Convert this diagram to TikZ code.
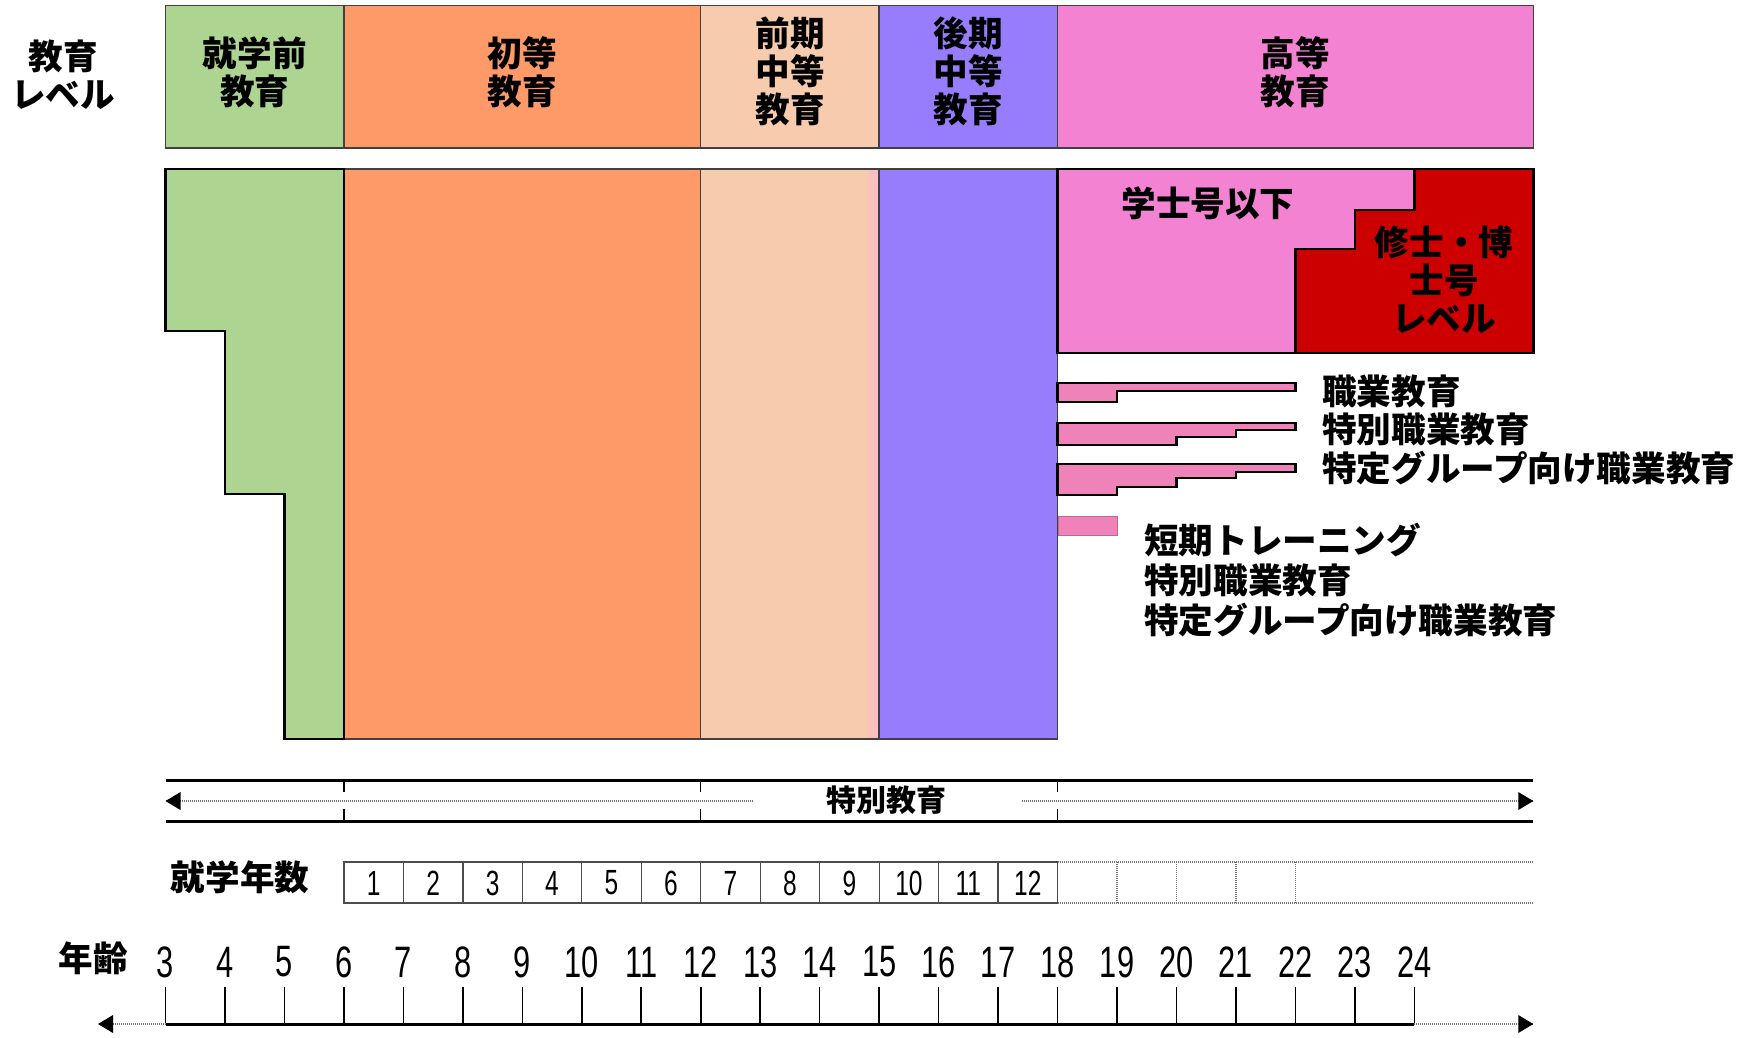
\documentclass[tikz,border=0pt]{standalone}
\usepackage{fontspec}
\newfontfamily\jp{Noto Sans CJK JP}
\newfontfamily\nar[FakeStretch=0.7]{Liberation Sans}
\usetikzlibrary{arrows.meta}
\definecolor{cgreen}{HTML}{ADD591}
\definecolor{corange}{HTML}{FE9A68}
\definecolor{cpeach}{HTML}{F7CBAE}
\definecolor{cpurple}{HTML}{977DFB}
\definecolor{cpink}{HTML}{F383D2}
\definecolor{cred}{HTML}{CC0000}
\definecolor{cvoc}{HTML}{EF82B8}
\definecolor{cline}{HTML}{404040}
\definecolor{cstrip}{HTML}{F8C0C0}
\newcommand\fJ{\jp\bfseries\fontsize{34.6}{38}\selectfont}
\newcommand\fJs{\jp\bfseries\fontsize{30}{34}\selectfont}
\newcommand\fNa{\nar\fontsize{44}{48}\selectfont}
\newcommand\fNb{\nar\fontsize{35}{40}\selectfont}
\begin{document}
\begin{tikzpicture}[x=1pt,y=-1pt,
  hdr/.style={draw=cline,line width=1.5pt},
  col/.style={draw=cline,line width=1.5pt},
  blk/.style={draw=black,line width=2.5pt,line join=miter},
  lbl/.style={font=\fJ,align=center,inner sep=0pt},
  lbls/.style={font=\fJs,align=center,inner sep=0pt},
  vbar/.style={fill=cvoc,draw=black,line width=2.4pt},
  dotl/.style={draw=black!55,line width=1.2pt,dash pattern=on 1pt off 1pt},
  agenum/.style={font=\fNa,inner sep=0pt},
  boxnum/.style={font=\fNb,inner sep=0pt},
  yrbox/.style={draw=black!70,line width=1.3pt},
]
\useasboundingbox (0,0) rectangle (1742,1037);
% ---------- header band ----------
\filldraw[hdr,fill=cgreen]  (165.5,5.5) rectangle (343.9,148);
\filldraw[hdr,fill=corange] (343.9,5.5) rectangle (700.7,148);
\filldraw[hdr,fill=cpeach]  (700.7,5.5) rectangle (879.1,148);
\filldraw[hdr,fill=cpurple] (879.1,5.5) rectangle (1057.6,148);
\filldraw[hdr,fill=cpink]   (1057.6,5.5) rectangle (1533.3,148);
\node[lbl] (lvl) at (63,75) {教育\\レベル};
\node[lbl] (h1) at (254.7,72) {就学前\\教育};
\node[lbl] (h2) at (522.3,72) {初等\\教育};
\node[lbl] (h3) at (790,71) {前期\\中等\\教育};
\node[lbl] (h4) at (968.3,71) {後期\\中等\\教育};
\node[lbl] (h5) at (1295.4,72) {高等\\教育};
% ---------- main columns ----------
\filldraw[col,fill=corange] (343.9,169) rectangle (700.7,739);
\filldraw[col,fill=cpeach]  (700.7,169) rectangle (879.1,739);
\fill[cstrip] (869,170) rectangle (878.3,738);
\filldraw[col,fill=cpurple] (879.1,169) rectangle (1057.6,739);
\filldraw[blk,fill=cgreen] (165.5,169) -- (343.9,169) -- (343.9,739) -- (284.4,739)
  -- (284.4,494) -- (225,494) -- (225,331) -- (165.5,331) -- cycle;
% ---------- higher education ----------
\filldraw[blk,fill=cpink] (1057.6,169) rectangle (1533.3,353);
\filldraw[blk,fill=cred] (1414.4,169) -- (1533.3,169) -- (1533.3,353) -- (1295.4,353)
  -- (1295.4,249) -- (1354.9,249) -- (1354.9,210) -- (1414.4,210) -- cycle;
\node[lbl] (bach) at (1208,203) {学士号以下};
\node[lbl] (mast) at (1444,280) {修士・博\\士号\\レベル};
% ---------- vocational bars ----------
\filldraw[vbar] (1057.6,383) -- (1295.4,383) -- (1295.4,391) -- (1117,391) -- (1117,402) -- (1057.6,402) -- cycle;
\filldraw[vbar] (1057.6,423) -- (1295.4,423) -- (1295.4,430) -- (1236,430) -- (1236,437)
  -- (1176.5,437) -- (1176.5,445) -- (1057.6,445) -- cycle;
\filldraw[vbar] (1057.6,464) -- (1295.4,464) -- (1295.4,472) -- (1236,472) -- (1236,478)
  -- (1176.5,478) -- (1176.5,487) -- (1117,487) -- (1117,495) -- (1057.6,495) -- cycle;
\filldraw[fill=cvoc,draw=cvoc!80!black,line width=1pt] (1058.5,516) rectangle (1117,535);
\node[lbl,anchor=west] (v1) at (1322,391) {職業教育};
\node[lbl,anchor=west] (v2) at (1322,429) {特別職業教育};
\node[lbl,anchor=west] (v3) at (1322,468) {特定グループ向け職業教育};
\node[lbl,anchor=west] (s1) at (1144,540) {短期トレーニング};
\node[lbl,anchor=west] (s2) at (1144,580) {特別職業教育};
\node[lbl,anchor=west] (s3) at (1144,620) {特定グループ向け職業教育};
% ---------- special education ----------
\draw[line width=3pt] (165.5,780) -- (1533.3,780);
\draw[line width=3pt] (165.5,821) -- (1533.3,821);
\foreach \xx in {343.9,700.7,1057.6}{
  \draw[line width=1.5pt] (\xx,780) -- (\xx,792);
  \draw[line width=1.5pt] (\xx,809) -- (\xx,821);
}
\node[lbls] (sped) at (886,800) {特別教育};
\coordinate (spA) at (753,801);
\coordinate (spAe) at (165.5,801);
\coordinate (spB) at (1022,801);
\coordinate (spBe) at (1533.3,801);
\draw[dotl] (spA) -- (spAe);
\draw[dotl] (spB) -- (spBe);
\fill (spAe) -- ++(15,-9) -- ++(0,18) -- cycle;
\fill (spBe) -- ++(-15,-9) -- ++(0,18) -- cycle;
% ---------- years of schooling ----------
\node[lbl] (yrs) at (240,877) {就学年数};
\foreach \i in {1,...,12}{
  \pgfmathsetmacro\xa{165.5+(\i+2)*59.47}
  \pgfmathsetmacro\xb{\xa+59.47}
  \draw[yrbox] (\xa,862) rectangle (\xb,903);
  \node[boxnum] (yr\i) at ({(\xa+\xb)/2},883) {\i};
}
\draw[dotl] (1057.6,862) -- (1533.3,862);
\draw[dotl] (1057.6,903) -- (1533.3,903);
\foreach \xx in {1117,1176.5,1236,1295.4}{
  \draw[dotl] (\xx,862) -- (\xx,903);
}
% ---------- age axis ----------
\node[lbl] (agelbl) at (93,958) {年齢};
\foreach \a in {3,...,24}{
  \pgfmathsetmacro\xx{165.5+(\a-3)*59.47}
  \draw[line width=1.6pt] (\xx,987) -- (\xx,1024);
  \node[agenum] (age\a) at (\xx,962) {\a};
}
\draw[line width=3pt] (165.5,1024) -- (1414.4,1024);
\coordinate (axL) at (165.5,1024);
\coordinate (axLe) at (98,1024);
\coordinate (axR) at (1414.4,1024);
\coordinate (axRe) at (1533.3,1024);
\draw[dotl] (axL) -- (axLe);
\draw[dotl] (axR) -- (axRe);
\fill (axLe) -- ++(15,-9) -- ++(0,18) -- cycle;
\fill (axRe) -- ++(-15,-9) -- ++(0,18) -- cycle;
\end{tikzpicture}
\end{document}
